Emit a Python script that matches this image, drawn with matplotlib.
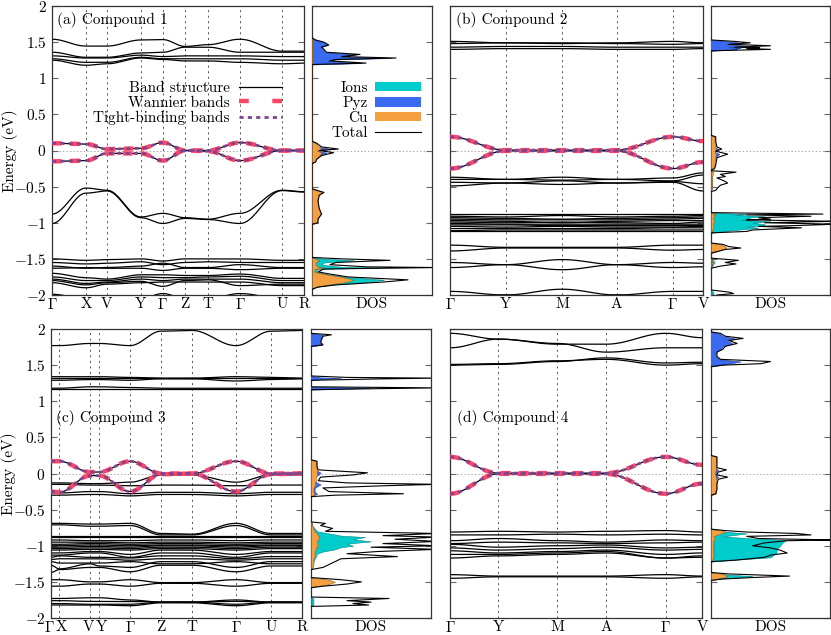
import numpy as np
import matplotlib.pyplot as plt
import matplotlib.transforms as mtransforms
from matplotlib.lines import Line2D
from matplotlib.patches import Patch
from matplotlib.ticker import FuncFormatter, MultipleLocator

plt.rcParams['font.family'] = ['cmr10', 'DejaVu Serif']
plt.rcParams['mathtext.fontset'] = 'cm'
plt.rcParams['axes.formatter.use_mathtext'] = True
plt.rcParams['font.size'] = 11
plt.rcParams['lines.scale_dashes'] = False

RED = '#ff4466'
PURPLE = '#7d4590'
C_IONS = '#00cccc'
C_PYZ = '#3a6af2'
C_CU = '#f4a040'

G = r'$\Gamma$'

# ---------------- k-paths ----------------
a_kpos = [0, 0.135, 0.218, 0.353, 0.44, 0.528, 0.619, 0.746, 0.913, 1.0]
a_klab = [G, 'X', 'V', 'Y', G, 'Z', 'T', G, 'U', 'R']
b_kpos = [0, 0.22, 0.443, 0.659, 0.881, 1.0]
b_klab = [G, 'Y', 'M', 'A', G, 'V']
c_kpos = [0, 0.033, 0.156, 0.192, 0.315, 0.439, 0.562, 0.737, 0.877, 1.0]
c_klab = [G, 'X', 'V', 'Y', G, 'Z', 'T', G, 'U', 'R']
d_kpos = [0, 0.192, 0.426, 0.62, 0.856, 1.0]
d_klab = [G, 'Y', 'M', 'A', G, 'V']

# ---------------- bands (energy at each k node, eV) ----------------
a_bands = [
    [1.54, 1.445, 1.445, 1.53, 1.535, 1.44, 1.465, 1.54, 1.375, 1.375],
    [1.36, 1.29, 1.29, 1.35, 1.36, 1.43, 1.43, 1.36, 1.36, 1.36],
    [1.31, 1.28, 1.28, 1.32, 1.30, 1.31, 1.31, 1.31, 1.30, 1.30],
    [1.27, 1.22, 1.22, 1.29, 1.27, 1.27, 1.27, 1.27, 1.25, 1.25],
    [1.25, 1.18, 1.20, 1.28, 1.26, 1.24, 1.24, 1.22, 1.20, 1.21],
    [-0.88, -0.52, -0.55, -0.92, -0.87, -0.93, -0.95, -0.87, -0.55, -0.57],
    [-1.01, -0.59, -0.56, -0.93, -1.01, -0.94, -0.955, -1.01, -0.555, -0.575],
    [-1.50, -1.52, -1.51, -1.50, -1.53, -1.50, -1.50, -1.50, -1.52, -1.52],
    [-1.55, -1.57, -1.56, -1.54, -1.58, -1.55, -1.54, -1.55, -1.55, -1.55],
    [-1.60, -1.63, -1.62, -1.60, -1.56, -1.62, -1.62, -1.58, -1.62, -1.62],
    [-1.63, -1.62, -1.63, -1.63, -1.66, -1.63, -1.63, -1.65, -1.63, -1.63],
    [-1.70, -1.76, -1.78, -1.72, -1.72, -1.73, -1.73, -1.71, -1.77, -1.77],
    [-1.75, -1.80, -1.80, -1.75, -1.76, -1.76, -1.75, -1.74, -1.80, -1.80],
    [-1.78, -1.84, -1.82, -1.78, -1.80, -1.78, -1.78, -1.78, -1.83, -1.83],
    [-1.80, -1.86, -1.83, -1.81, -1.88, -1.80, -1.79, -1.87, -1.85, -1.85],
    [-1.83, -1.90, -1.85, -1.83, -1.82, -1.82, -1.82, -1.82, -1.87, -1.87],
    [-1.99, -2.05, -2.05, -2.05, -1.98, -2.05, -2.05, -1.98, -2.05, -2.05],
]
a_wannier = [
    [0.10, 0.09, 0.02, 0.03, 0.11, 0.0, 0.0, 0.11, 0.0, 0.0],
    [-0.15, -0.14, -0.04, -0.04, -0.14, 0.0, -0.01, -0.14, 0.0, 0.0],
]

b_bands = [
    [1.51, 1.49, 1.48, 1.49, 1.51, 1.49],
    [1.48, 1.49, 1.49, 1.48, 1.47, 1.48],
    [1.43, 1.44, 1.44, 1.43, 1.43, 1.43],
    [1.40, 1.41, 1.41, 1.40, 1.40, 1.41],
    [-0.37, -0.40, -0.37, -0.40, -0.38, -0.31],
    [-0.40, -0.40, -0.41, -0.40, -0.42, -0.34],
    [-0.44, -0.45, -0.42, -0.45, -0.43, -0.46],
    [-0.49, -0.45, -0.47, -0.45, -0.44, -0.56],
    [-0.88, -0.88, -0.88, -0.88, -0.88, -0.88],
    [-0.91, -0.92, -0.90, -0.92, -0.91, -0.90],
    [-0.93, -0.94, -0.95, -0.94, -0.93, -0.92],
    [-0.95, -0.96, -0.96, -0.96, -0.95, -0.94],
    [-0.97, -0.98, -1.00, -0.98, -0.97, -0.97],
    [-0.99, -1.00, -0.99, -1.00, -1.01, -0.99],
    [-1.01, -1.02, -1.02, -1.02, -1.02, -1.02],
    [-1.03, -1.03, -1.04, -1.04, -1.04, -1.04],
    [-1.05, -1.06, -1.05, -1.06, -1.06, -1.05],
    [-1.08, -1.08, -1.08, -1.08, -1.07, -1.07],
    [-1.11, -1.10, -1.10, -1.10, -1.10, -1.10],
    [-1.12, -1.12, -1.12, -1.12, -1.12, -1.12],
    [-1.31, -1.34, -1.34, -1.34, -1.31, -1.31],
    [-1.39, -1.35, -1.35, -1.35, -1.38, -1.37],
    [-1.55, -1.58, -1.51, -1.58, -1.55, -1.56],
    [-1.62, -1.58, -1.65, -1.58, -1.62, -1.61],
    [-1.95, -2.00, -1.92, -2.00, -1.95, -1.95],
    [-2.05, -2.00, -2.08, -2.00, -2.05, -2.05],
]
b_wannier = [
    [0.19, 0.005, 0.005, 0.005, 0.19, 0.13],
    [-0.25, -0.005, -0.005, -0.005, -0.25, -0.16],
]

c_bands = [
    [1.77, 1.77, 1.80, 1.80, 1.77, 1.97, 1.98, 1.77, 1.97, 1.98],
    [1.34, 1.34, 1.34, 1.34, 1.33, 1.32, 1.32, 1.34, 1.33, 1.32],
    [1.32, 1.32, 1.32, 1.32, 1.32, 1.32, 1.32, 1.32, 1.32, 1.32],
    [1.29, 1.29, 1.30, 1.30, 1.29, 1.31, 1.31, 1.28, 1.30, 1.31],
    [1.18, 1.18, 1.20, 1.20, 1.19, 1.18, 1.18, 1.18, 1.18, 1.18],
    [1.17, 1.17, 1.17, 1.17, 1.17, 1.17, 1.17, 1.17, 1.17, 1.17],
    [-0.13, -0.13, -0.14, -0.14, -0.12, -0.02, -0.02, -0.12, -0.02, -0.02],
    [-0.15, -0.15, -0.16, -0.16, -0.17, -0.16, -0.16, -0.17, -0.16, -0.16],
    [-0.27, -0.27, -0.25, -0.25, -0.28, -0.26, -0.26, -0.28, -0.26, -0.26],
    [-0.30, -0.30, -0.29, -0.29, -0.31, -0.29, -0.29, -0.31, -0.29, -0.29],
    [-0.69, -0.69, -0.70, -0.70, -0.69, -0.83, -0.84, -0.69, -0.83, -0.83],
    [-0.71, -0.71, -0.73, -0.73, -0.72, -0.85, -0.85, -0.72, -0.85, -0.85],
    [-0.86, -0.86, -0.86, -0.86, -0.86, -0.86, -0.86, -0.86, -0.86, -0.86],
    [-0.88, -0.88, -0.88, -0.88, -0.88, -0.88, -0.88, -0.88, -0.88, -0.88],
    [-0.92, -0.92, -0.93, -0.93, -0.93, -0.92, -0.92, -0.93, -0.92, -0.92],
    [-0.95, -0.95, -0.95, -0.95, -0.96, -0.95, -0.95, -0.96, -0.95, -0.95],
    [-0.98, -0.98, -0.97, -0.97, -0.98, -0.97, -0.97, -0.98, -0.97, -0.97],
    [-1.00, -1.00, -0.99, -0.99, -1.00, -0.99, -0.99, -1.00, -0.99, -0.99],
    [-1.02, -1.02, -1.01, -1.01, -1.02, -1.00, -1.00, -1.02, -1.00, -1.00],
    [-1.04, -1.04, -1.03, -1.03, -1.04, -1.02, -1.02, -1.04, -1.02, -1.02],
    [-1.06, -1.06, -1.05, -1.05, -1.06, -1.04, -1.04, -1.06, -1.04, -1.04],
    [-1.10, -1.10, -1.08, -1.08, -1.12, -1.06, -1.06, -1.12, -1.08, -1.08],
    [-1.13, -1.13, -1.10, -1.10, -1.16, -1.10, -1.10, -1.16, -1.10, -1.10],
    [-1.16, -1.14, -1.16, -1.16, -1.17, -1.14, -1.14, -1.18, -1.15, -1.15],
    [-1.19, -1.18, -1.18, -1.18, -1.20, -1.18, -1.18, -1.20, -1.18, -1.18],
    [-1.22, -1.24, -1.24, -1.24, -1.22, -1.25, -1.25, -1.22, -1.25, -1.25],
    [-1.27, -1.32, -1.25, -1.28, -1.30, -1.22, -1.22, -1.30, -1.22, -1.22],
    [-1.37, -1.33, -1.30, -1.30, -1.36, -1.27, -1.27, -1.36, -1.28, -1.28],
    [-1.47, -1.47, -1.50, -1.50, -1.47, -1.51, -1.51, -1.47, -1.51, -1.51],
    [-1.56, -1.56, -1.53, -1.53, -1.56, -1.52, -1.52, -1.56, -1.52, -1.52],
    [-1.73, -1.73, -1.72, -1.72, -1.75, -1.78, -1.78, -1.75, -1.78, -1.78],
    [-1.76, -1.76, -1.77, -1.77, -1.77, -1.78, -1.78, -1.77, -1.78, -1.78],
    [-1.80, -1.80, -1.81, -1.81, -1.81, -1.78, -1.78, -1.81, -1.78, -1.78],
    [-1.82, -1.82, -1.82, -1.82, -1.83, -1.79, -1.79, -1.83, -1.79, -1.79],
]
c_wannier = [
    [0.17, 0.17, 0.02, 0.02, 0.17, 0.0, 0.0, 0.17, 0.0, 0.0],
    [-0.25, -0.26, -0.03, -0.03, -0.25, -0.01, 0.0, -0.25, -0.01, 0.0],
]

d_bands = [
    [1.94, 1.86, 1.79, 1.79, 1.94, 1.88],
    [1.74, 1.86, 1.80, 1.68, 1.74, 1.74],
    [1.51, 1.52, 1.56, 1.58, 1.50, 1.52],
    [1.50, 1.51, 1.55, 1.60, 1.53, 1.54],
    [-0.81, -0.80, -0.81, -0.80, -0.79, -0.81],
    [-0.85, -0.85, -0.84, -0.85, -0.84, -0.85],
    [-0.93, -0.90, -0.93, -0.95, -0.92, -0.93],
    [-0.97, -0.95, -0.96, -0.97, -0.96, -0.95],
    [-0.98, -1.02, -1.00, -0.99, -1.03, -1.02],
    [-1.03, -1.06, -1.04, -1.02, -1.06, -1.05],
    [-1.07, -1.10, -1.08, -1.06, -1.12, -1.10],
    [-1.12, -1.12, -1.10, -1.08, -1.17, -1.14],
    [-1.17, -1.14, -1.12, -1.10, -1.17, -1.16],
    [-1.40, -1.42, -1.42, -1.42, -1.40, -1.42],
    [-1.45, -1.43, -1.43, -1.43, -1.45, -1.43],
]
d_wannier = [
    [0.23, 0.005, 0.005, 0.005, 0.23, 0.12],
    [-0.28, -0.005, -0.005, -0.005, -0.28, -0.14],
]

# ---------------- projected DOS (arb. units) ----------------
a_dos_E = ([1.56, 1.53, 1.50, 1.46, 1.43, 1.40, 1.36, 1.33, 1.30, 1.28, 1.26, 1.24, 1.21, 1.19]
           + [0.13, 0.10, 0.05, 0.02, 0.00, -0.03, -0.07, -0.12, -0.16, -0.18]
           + [-0.53, -0.56, -0.58, -0.62, -0.70, -0.80, -0.88, -0.95, -1.00, -1.02]
           + [-1.48, -1.50, -1.52, -1.55, -1.58, -1.61, -1.62, -1.64, -1.68, -1.71, -1.75, -1.79, -1.82, -1.86, -1.89, -1.92])
a_dos_total = ([0, 0.03, 0.10, 0.14, 0.08, 0.10, 0.12, 0.40, 0.25, 0.70, 0.20, 0.15, 0.45, 0]
               + [0, 0.04, 0.08, 0.22, 0.06, 0.18, 0.08, 0.04, 0.03, 0]
               + [0, 0.06, 0.10, 0.06, 0.05, 0.06, 0.08, 0.05, 0.05, 0]
               + [0, 0.25, 0.65, 0.20, 0.15, 0.45, 1.05, 0.10, 0.05, 0.15, 0.30, 0.80, 0.60, 0.20, 0.05, 0])
a_dos_pyz = ([0, 0.03, 0.09, 0.13, 0.07, 0.09, 0.11, 0.37, 0.23, 0.66, 0.18, 0.13, 0.42, 0]
             + [0, 0.02, 0.05, 0.16, 0.03, 0.12, 0.05, 0.02, 0.01, 0]
             + [0, 0, 0, 0, 0, 0, 0, 0, 0, 0]
             + [0, 0.02, 0.05, 0.02, 0.02, 0.04, 0.08, 0.01, 0.01, 0.02, 0.03, 0.06, 0.05, 0.02, 0.01, 0])
a_dos_cu = ([0, 0, 0, 0, 0, 0, 0, 0, 0, 0, 0, 0, 0, 0]
            + [0, 0.03, 0.06, 0.08, 0.04, 0.08, 0.06, 0.03, 0.02, 0]
            + [0, 0.055, 0.08, 0.055, 0.045, 0.055, 0.07, 0.045, 0.045, 0]
            + [0, 0.03, 0.06, 0.03, 0.03, 0.05, 0.10, 0.02, 0.02, 0.10, 0.25, 0.35, 0.28, 0.12, 0.03, 0])
a_dos_ions = ([0, 0, 0, 0, 0, 0, 0, 0, 0, 0, 0, 0, 0, 0]
              + [0, 0, 0, 0, 0, 0, 0, 0, 0, 0]
              + [0, 0, 0, 0, 0, 0, 0, 0, 0, 0]
              + [0, 0.12, 0.35, 0.10, 0.08, 0.25, 0.55, 0.05, 0.03, 0.12, 0.28, 0.60, 0.45, 0.15, 0.03, 0])

b_dos_E = ([1.53, 1.51, 1.49, 1.47, 1.45, 1.43, 1.42, 1.41, 1.40, 1.38]
           + [0.21, 0.19, 0.12, 0.05, 0.02, -0.01, -0.05, -0.10, -0.20, -0.25, -0.27]
           + [-0.28, -0.30, -0.33, -0.36, -0.38, -0.42, -0.45, -0.48, -0.51, -0.55, -0.57]
           + [-0.86, -0.88, -0.89, -0.91, -0.93, -0.95, -0.96, -0.98, -1.00, -1.02, -1.04, -1.05, -1.07, -1.10, -1.12, -1.14]
           + [-1.28, -1.30, -1.33, -1.35, -1.37, -1.40, -1.42]
           + [-1.49, -1.52, -1.55, -1.57, -1.60, -1.63]
           + [-1.93, -1.96, -1.98, -2.00])
b_dos_total = ([0, 0.20, 0.33, 0.15, 0.50, 0.20, 0.41, 0.30, 0.50, 0]
               + [0, 0.04, 0.04, 0.05, 0.09, 0.04, 0.14, 0.05, 0.04, 0.03, 0]
               + [0, 0.21, 0.08, 0.12, 0.05, 0.11, 0.14, 0.08, 0.06, 0.04, 0]
               + [0, 0.94, 0.30, 0.84, 0.40, 0.50, 0.30, 1.05, 0.45, 1.05, 0.69, 0.40, 0.76, 0.35, 0.30, 0]
               + [0, 0.10, 0.15, 0.25, 0.12, 0.05, 0]
               + [0, 0.23, 0.12, 0.21, 0.08, 0]
               + [0, 0.15, 0.19, 0.05])
b_dos_pyz = ([0, 0.15, 0.25, 0.12, 0.30, 0.15, 0.25, 0.20, 0.22, 0]
             + [0, 0.01, 0.02, 0.03, 0.06, 0.02, 0.07, 0.03, 0.02, 0.01, 0]
             + [0, 0.01, 0.01, 0.01, 0.01, 0.01, 0.01, 0.01, 0.01, 0, 0]
             + [0, 0.02, 0.01, 0.02, 0.01, 0.01, 0.01, 0.02, 0.01, 0.02, 0.01, 0.01, 0.01, 0.01, 0.01, 0]
             + [0, 0.01, 0.01, 0.02, 0.01, 0.01, 0]
             + [0, 0.01, 0.01, 0.01, 0, 0]
             + [0, 0, 0, 0])
b_dos_cu = ([0, 0, 0, 0, 0, 0, 0, 0, 0, 0]
            + [0, 0.03, 0.03, 0.035, 0.04, 0.03, 0.04, 0.035, 0.03, 0.02, 0]
            + [0, 0.02, 0.015, 0.01, 0.01, 0.01, 0.01, 0.01, 0.01, 0, 0]
            + [0, 0.04, 0.02, 0.03, 0.02, 0.02, 0.02, 0.03, 0.02, 0.02, 0.02, 0.02, 0.02, 0.01, 0.01, 0]
            + [0, 0.08, 0.12, 0.13, 0.09, 0.04, 0]
            + [0, 0.01, 0.01, 0.01, 0, 0]
            + [0, 0, 0, 0])
b_dos_ions = ([0, 0, 0, 0, 0, 0, 0, 0, 0, 0]
              + [0, 0, 0, 0, 0, 0, 0, 0, 0, 0, 0]
              + [0, 0.01, 0.01, 0.01, 0.01, 0.01, 0.01, 0.01, 0.01, 0, 0]
              + [0, 0.30, 0.20, 0.45, 0.30, 0.35, 0.25, 0.50, 0.35, 0.45, 0.45, 0.30, 0.40, 0.20, 0.10, 0]
              + [0, 0.01, 0.01, 0.02, 0.01, 0.01, 0]
              + [0, 0.02, 0.03, 0.02, 0.01, 0]
              + [0, 0.02, 0.02, 0.01])

c_dos_E = ([1.94, 1.92, 1.90, 1.86, 1.82, 1.78, 1.76]
           + [1.35, 1.33, 1.32, 1.31, 1.29]
           + [1.20, 1.185, 1.175, 1.16]
           + [0.19, 0.17, 0.10, 0.05, 0.01, -0.02, -0.05, -0.10, -0.13, -0.15, -0.17, -0.20, -0.25, -0.28, -0.30, -0.32]
           + [-0.67, -0.69, -0.72, -0.76, -0.80, -0.83, -0.86, -0.88, -0.91, -0.94, -0.97, -1.00, -1.02, -1.05, -1.08, -1.11,
              -1.15, -1.18, -1.22, -1.26, -1.30, -1.33]
           + [-1.44, -1.47, -1.50, -1.53, -1.56, -1.58]
           + [-1.71, -1.73, -1.76, -1.78, -1.80, -1.82, -1.84])
c_dos_total = ([0, 0.17, 0.10, 0.09, 0.08, 0.10, 0]
               + [0, 0.30, 1.05, 0.60, 0]
               + [0, 1.05, 0.60, 0]
               + [0, 0.05, 0.05, 0.06, 0.47, 0.35, 0.08, 0.06, 0.30, 1.05, 0.60, 0.10, 0.15, 0.77, 0.20, 0]
               + [0, 0.12, 0.08, 0.18, 0.12, 1.05, 0.60, 1.05, 0.70, 1.05, 0.60, 1.05, 0.50, 1.05, 0.55, 0.30,
                  0.72, 0.25, 0.20, 0.15, 0.10, 0]
               + [0, 0.25, 0.42, 0.30, 0.10, 0]
               + [0, 0.65, 0.30, 0.50, 0.35, 0.48, 0])
c_dos_pyz = ([0, 0.10, 0.09, 0.08, 0.07, 0.09, 0]
             + [0, 0.08, 0.25, 0.10, 0]
             + [0, 0.50, 0.30, 0]
             + [0, 0.03, 0.035, 0.04, 0.08, 0.06, 0.03, 0.03, 0.05, 0.08, 0.06, 0.03, 0.03, 0.05, 0.02, 0]
             + [0, 0.01, 0.01, 0.01, 0.01, 0.02, 0.02, 0.02, 0.02, 0.02, 0.02, 0.02, 0.01, 0.01, 0.01, 0.01,
                0.01, 0.01, 0.01, 0.01, 0.01, 0]
             + [0, 0.02, 0.03, 0.02, 0.01, 0]
             + [0, 0, 0, 0, 0, 0, 0])
c_dos_cu = ([0, 0, 0, 0, 0, 0, 0]
            + [0, 0, 0, 0, 0]
            + [0, 0, 0, 0]
            + [0, 0.04, 0.045, 0.05, 0.05, 0.05, 0.04, 0.04, 0.03, 0.04, 0.03, 0.02, 0.02, 0.03, 0.02, 0]
            + [0, 0.01, 0.01, 0.02, 0.03, 0.05, 0.06, 0.07, 0.06, 0.05, 0.05, 0.06, 0.04, 0.04, 0.03, 0.03,
               0.03, 0.02, 0.02, 0.02, 0.01, 0]
            + [0, 0.15, 0.20, 0.15, 0.05, 0]
            + [0, 0, 0, 0, 0, 0, 0])
c_dos_ions = ([0, 0, 0, 0, 0, 0, 0]
              + [0, 0, 0, 0, 0]
              + [0, 0, 0, 0]
              + [0, 0, 0, 0, 0.01, 0.01, 0, 0, 0.01, 0.01, 0.01, 0, 0, 0.01, 0, 0]
              + [0, 0.01, 0.01, 0.03, 0.05, 0.15, 0.25, 0.45, 0.35, 0.50, 0.30, 0.35, 0.25, 0.20, 0.10, 0.05,
                 0.04, 0.03, 0.02, 0.02, 0.01, 0]
              + [0, 0.01, 0.01, 0.01, 0, 0]
              + [0, 0.02, 0.02, 0.02, 0.02, 0.02, 0])

d_dos_E = ([1.96, 1.94, 1.90, 1.87, 1.84, 1.80, 1.76, 1.72, 1.68, 1.62, 1.58, 1.55, 1.52, 1.50, 1.48]
           + [0.25, 0.23, 0.15, 0.08, 0.05, 0.02, -0.02, -0.05, -0.08, -0.15, -0.22, -0.28, -0.30]
           + [-0.77, -0.79, -0.81, -0.83, -0.85, -0.87, -0.90, -0.92, -0.93, -0.96, -1.00, -1.03, -1.06, -1.10,
              -1.13, -1.16, -1.20, -1.22]
           + [-1.37, -1.39, -1.42, -1.44, -1.46, -1.48])
d_dos_total = ([0, 0.08, 0.12, 0.27, 0.15, 0.22, 0.12, 0.10, 0.05, 0.05, 0.08, 0.50, 0.42, 0.10, 0]
               + [0, 0.05, 0.05, 0.05, 0.13, 0.06, 0.05, 0.14, 0.06, 0.05, 0.05, 0.04, 0]
               + [0, 0.12, 0.30, 0.72, 0.84, 0.30, 0.40, 1.05, 0.64, 0.45, 0.35, 0.50, 0.58, 0.64, 0.50, 0.45, 0.20, 0]
               + [0, 0.15, 0.66, 0.35, 0.10, 0])
d_dos_pyz = ([0, 0.07, 0.10, 0.20, 0.13, 0.18, 0.10, 0.08, 0.04, 0.04, 0.07, 0.25, 0.15, 0.08, 0]
             + [0, 0.02, 0.03, 0.035, 0.06, 0.04, 0.04, 0.06, 0.035, 0.03, 0.02, 0.01, 0]
             + [0, 0.01, 0.01, 0.02, 0.02, 0.01, 0.01, 0.02, 0.02, 0.02, 0.02, 0.02, 0.02, 0.02, 0.02, 0.02, 0.01, 0]
             + [0, 0.01, 0.03, 0.02, 0.01, 0])
d_dos_cu = ([0, 0, 0, 0, 0, 0, 0, 0, 0, 0, 0, 0, 0, 0, 0]
            + [0, 0.045, 0.045, 0.04, 0.04, 0.035, 0.035, 0.04, 0.04, 0.045, 0.045, 0.04, 0]
            + [0, 0.10, 0.12, 0.08, 0.05, 0.02, 0.03, 0.03, 0.02, 0.02, 0.02, 0.02, 0.02, 0.02, 0.02, 0.02, 0.01, 0]
            + [0, 0.10, 0.14, 0.10, 0.03, 0])
d_dos_ions = ([0, 0, 0, 0, 0, 0, 0, 0, 0, 0, 0, 0, 0, 0, 0]
              + [0, 0, 0, 0, 0, 0, 0, 0, 0, 0, 0, 0, 0]
              + [0, 0.03, 0.15, 0.30, 0.20, 0.10, 0.35, 0.64, 0.62, 0.60, 0.58, 0.56, 0.55, 0.55, 0.52, 0.50, 0.15, 0]
              + [0, 0.05, 0.35, 0.20, 0.05, 0])


def smooth_path(kpos, vals, n=24):
    xs, ys = [], []
    for i in range(len(kpos) - 1):
        t = np.linspace(0, 1, n)
        s = 0.5 - 0.5 * np.cos(np.pi * t)
        xs.append(kpos[i] + (kpos[i + 1] - kpos[i]) * t)
        ys.append(vals[i] + (vals[i + 1] - vals[i]) * s)
    return np.concatenate(xs), np.concatenate(ys)


def style_energy_axis(ax, labels):
    ax.set_ylim(-2, 2)
    ax.yaxis.set_major_locator(MultipleLocator(0.5))
    ax.yaxis.set_major_formatter(FuncFormatter(lambda v, p: '$%g$' % v))
    ax.tick_params(axis='y', direction='in', left=True, right=True, length=4,
                   color='#666666', labelleft=labels, pad=4)
    ax.tick_params(axis='x', length=0, pad=1.5)
    for sp in ax.spines.values():
        sp.set_color('#333333')
        sp.set_linewidth(0.9)


def band_panel(ax, kpos, klab, bands, wannier, ylab):
    for k in kpos[1:-1]:
        ax.axvline(k, color='#555555', lw=0.7, ls=(0, (1.5, 2.5)), zorder=1)
    ax.axhline(0, color='#999999', lw=0.6, ls=(0, (1, 1.5)), zorder=1)
    for b in bands:
        x, y = smooth_path(kpos, b)
        ax.plot(x, y, color='black', lw=0.9, zorder=2)
    for b in wannier:
        x, y = smooth_path(kpos, b)
        ax.plot(x, y, color='black', lw=0.9, zorder=2)
        ax.plot(x, y, color=RED, lw=3.2, dashes=(7, 6), zorder=3)
        ax.plot(x, y, color=PURPLE, lw=2.0, dashes=(3, 3), zorder=4)
    ax.set_xlim(0, 1)
    ax.set_xticks(kpos)
    ax.set_xticklabels(klab)
    style_energy_axis(ax, ylab)
    if ylab:
        ax.set_ylabel('Energy (eV)')
        ax.yaxis.set_label_coords(-0.135, 0.5)


def dos_panel(ax, E, total, ions, pyz, cu):
    ax.axhline(0, color='#999999', lw=0.6, ls=(0, (1, 1.5)), zorder=1)
    ax.fill_betweenx(E, 0, ions, color=C_IONS, lw=0.4, edgecolor='#008888', zorder=2)
    ax.fill_betweenx(E, 0, pyz, color=C_PYZ, lw=0.4, edgecolor='#1a3a99', zorder=3)
    ax.fill_betweenx(E, 0, cu, color=C_CU, lw=0.4, edgecolor='#996020', zorder=4)
    ax.plot(total, E, color='black', lw=0.8, zorder=5)
    ax.set_xlim(0, 1)
    ax.set_xticks([0.5])
    ax.set_xticklabels(['DOS'])
    style_energy_axis(ax, False)


W, H = 831, 635
fig = plt.figure(figsize=(W / 100, H / 100), dpi=100)


def add_px(l, t, r, b):
    return fig.add_axes([l / W, 1 - b / H, (r - l) / W, (b - t) / H])


ax_a = add_px(52, 6, 304, 295)
ax_ad = add_px(312, 6, 432, 295)
ax_b = add_px(450, 6, 703, 295)
ax_bd = add_px(711, 6, 830, 295)
ax_c = add_px(51, 329, 302, 618)
ax_cd = add_px(311, 329, 431, 618)
ax_d = add_px(450, 329, 702, 618)
ax_dd = add_px(711, 329, 830, 618)

band_panel(ax_a, a_kpos, a_klab, a_bands, a_wannier, True)
band_panel(ax_b, b_kpos, b_klab, b_bands, b_wannier, False)
band_panel(ax_c, c_kpos, c_klab, c_bands, c_wannier, True)
band_panel(ax_d, d_kpos, d_klab, d_bands, d_wannier, False)

# nudge the two tight label pairs in (c) apart so they sit side by side
labels_c = ax_c.get_xticklabels()
for idx, dx in [(0, -2.0), (1, 2.0), (2, -2.0), (3, 2.0)]:
    lab = labels_c[idx]
    lab.set_transform(lab.get_transform()
                      + mtransforms.ScaledTranslation(dx / 100, 0, fig.dpi_scale_trans))

dos_panel(ax_ad, a_dos_E, a_dos_total, a_dos_ions, a_dos_pyz, a_dos_cu)
dos_panel(ax_bd, b_dos_E, b_dos_total, b_dos_ions, b_dos_pyz, b_dos_cu)
dos_panel(ax_cd, c_dos_E, c_dos_total, c_dos_ions, c_dos_pyz, c_dos_cu)
dos_panel(ax_dd, d_dos_E, d_dos_total, d_dos_ions, d_dos_pyz, d_dos_cu)

ax_a.text(0.02, 0.952, '(a) Compound 1', transform=ax_a.transAxes, va='center', ha='left')
ax_b.text(0.024, 0.952, '(b) Compound 2', transform=ax_b.transAxes, va='center', ha='left')
ax_c.text(0.02, 0.692, '(c) Compound 3', transform=ax_c.transAxes, va='center', ha='left')
ax_d.text(0.028, 0.692, '(d) Compound 4', transform=ax_d.transAxes, va='center', ha='left')

band_handles = [
    Line2D([], [], color='black', lw=0.9),
    Line2D([], [], color=RED, lw=3.2, dashes=(7, 17)),
    Line2D([], [], color=PURPLE, lw=2.0, dashes=(3, 3)),
]
ax_a.legend(band_handles, ['Band structure', 'Wannier bands', 'Tight-binding bands'],
            loc='upper right', bbox_to_anchor=(0.912, 0.74), frameon=False,
            markerfirst=False, handlelength=2.8, labelspacing=0.08,
            borderpad=0, borderaxespad=0, handletextpad=0.6)

dos_handles = [
    Patch(facecolor=C_IONS, edgecolor='none'),
    Patch(facecolor=C_PYZ, edgecolor='none'),
    Patch(facecolor=C_CU, edgecolor='none'),
    Line2D([], [], color='black', lw=0.8),
]
ax_ad.legend(dos_handles, ['Ions', 'Pyz', 'Cu', 'Total'],
             loc='upper right', bbox_to_anchor=(0.91, 0.74), frameon=False,
             markerfirst=False, handlelength=3.0, handleheight=0.6, labelspacing=0.08,
             borderpad=0, borderaxespad=0, handletextpad=0.5)

fig.savefig('out.png', dpi=100)
